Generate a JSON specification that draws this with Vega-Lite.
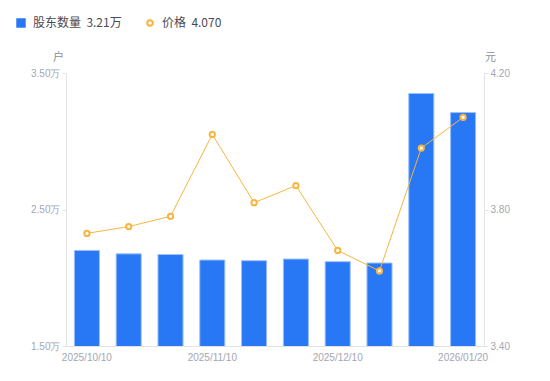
{
  "$schema": "https://vega.github.io/schema/vega-lite/v6.json",
  "width": 418,
  "height": 273,
  "autosize": {"type": "none"},
  "padding": {"left": 66, "top": 73, "right": 66, "bottom": 35},
  "background": "white",
  "config": {
    "view": {"stroke": null},
    "font": "Noto Sans CJK SC",
    "axis": {"labelFont": "Liberation Sans", "labelColor": "#a3a6b4", "labelFontSize": 10, "domainColor": "#e3e3e6", "tickColor": "#e3e3e6", "grid": false, "titleFont": "Noto Sans CJK SC", "titleColor": "#8c8f9c", "titleFontSize": 11, "titleFontWeight": "normal"},
    "legend": {"labelFontSize": 12, "labelColor": "#4a4a55", "labelFont": "Noto Sans CJK SC", "labelOffset": 6, "title": null}
  },
  "data": {
    "values": [
      {"date": "2025/10/10", "holders": 2.20, "price": 3.73},
      {"date": "2025/10/20", "holders": 2.175, "price": 3.75},
      {"date": "2025/10/31", "holders": 2.17, "price": 3.78},
      {"date": "2025/11/10", "holders": 2.13, "price": 4.02},
      {"date": "2025/11/20", "holders": 2.125, "price": 3.82},
      {"date": "2025/11/28", "holders": 2.137, "price": 3.87},
      {"date": "2025/12/10", "holders": 2.118, "price": 3.68},
      {"date": "2025/12/19", "holders": 2.108, "price": 3.62},
      {"date": "2025/12/31", "holders": 3.35, "price": 3.98},
      {"date": "2026/01/20", "holders": 3.21, "price": 4.07}
    ]
  },
  "encoding": {
    "x": {
      "field": "date", "type": "ordinal", "sort": null,
      "scale": {"paddingInner": 0.4, "paddingOuter": 0.2},
      "axis": {"title": null, "labelAngle": 0, "ticks": false, "labelPadding": 6, "values": ["2025/10/10", "2025/11/10", "2025/12/10", "2026/01/20"]}
    }
  },
  "layer": [
    {
      "mark": {"type": "bar", "stroke": "#9cc0fa", "strokeWidth": 1, "clip": true},
      "encoding": {
        "y": {
          "field": "holders", "type": "quantitative",
          "scale": {"domain": [1.5, 3.5], "zero": false, "nice": false},
          "axis": {"title": "户", "titleAngle": 0, "titleX": -8, "titleY": -16, "titleAlign": "center", "titleBaseline": "middle", "values": [1.5, 2.5, 3.5], "labelExpr": "format(datum.value, '.2f') + '万'", "tickSize": 4}
        },
        "color": {"datum": "股东数量", "type": "nominal", "scale": {"domain": ["股东数量"], "range": ["#2878f5"]},
          "legend": {"orient": "none", "legendX": -51, "legendY": -56, "title": null, "symbolType": "square", "symbolSize": 90, "symbolStrokeWidth": 0,
            "labelExpr": "'股东数量\u00a0\u00a03.21万'"}
        }
      }
    },
    {
      "mark": {"type": "line", "color": "#f9b540", "strokeWidth": 1},
      "encoding": {
        "y": {"field": "price", "type": "quantitative", "scale": {"domain": [3.4, 4.2], "zero": false, "nice": false},
          "axis": {"orient": "right", "title": "元", "titleAngle": 0, "titleX": 6, "titleY": -16, "titleAlign": "center", "titleBaseline": "middle", "values": [3.4, 3.8, 4.2], "format": ".2f", "tickSize": 4}}
      }
    },
    {
      "mark": {"type": "point", "shape": "circle", "filled": false, "fill": "white", "strokeWidth": 2, "size": 28, "opacity": 1},
      "encoding": {
        "y": {"field": "price", "type": "quantitative", "scale": {"domain": [3.4, 4.2], "zero": false, "nice": false}, "axis": null},
        "stroke": {"datum": "价格", "type": "nominal", "scale": {"domain": ["价格"], "range": ["#f9b540"]},
          "legend": {"orient": "none", "legendX": 78, "legendY": -56, "title": null, "symbolType": "circle", "symbolSize": 30, "symbolStrokeWidth": 2, "symbolFillColor": "white",
            "labelExpr": "'价格\u00a0\u00a04.070'"}}
      }
    }
  ],
  "resolve": {"scale": {"y": "independent"}}
}
